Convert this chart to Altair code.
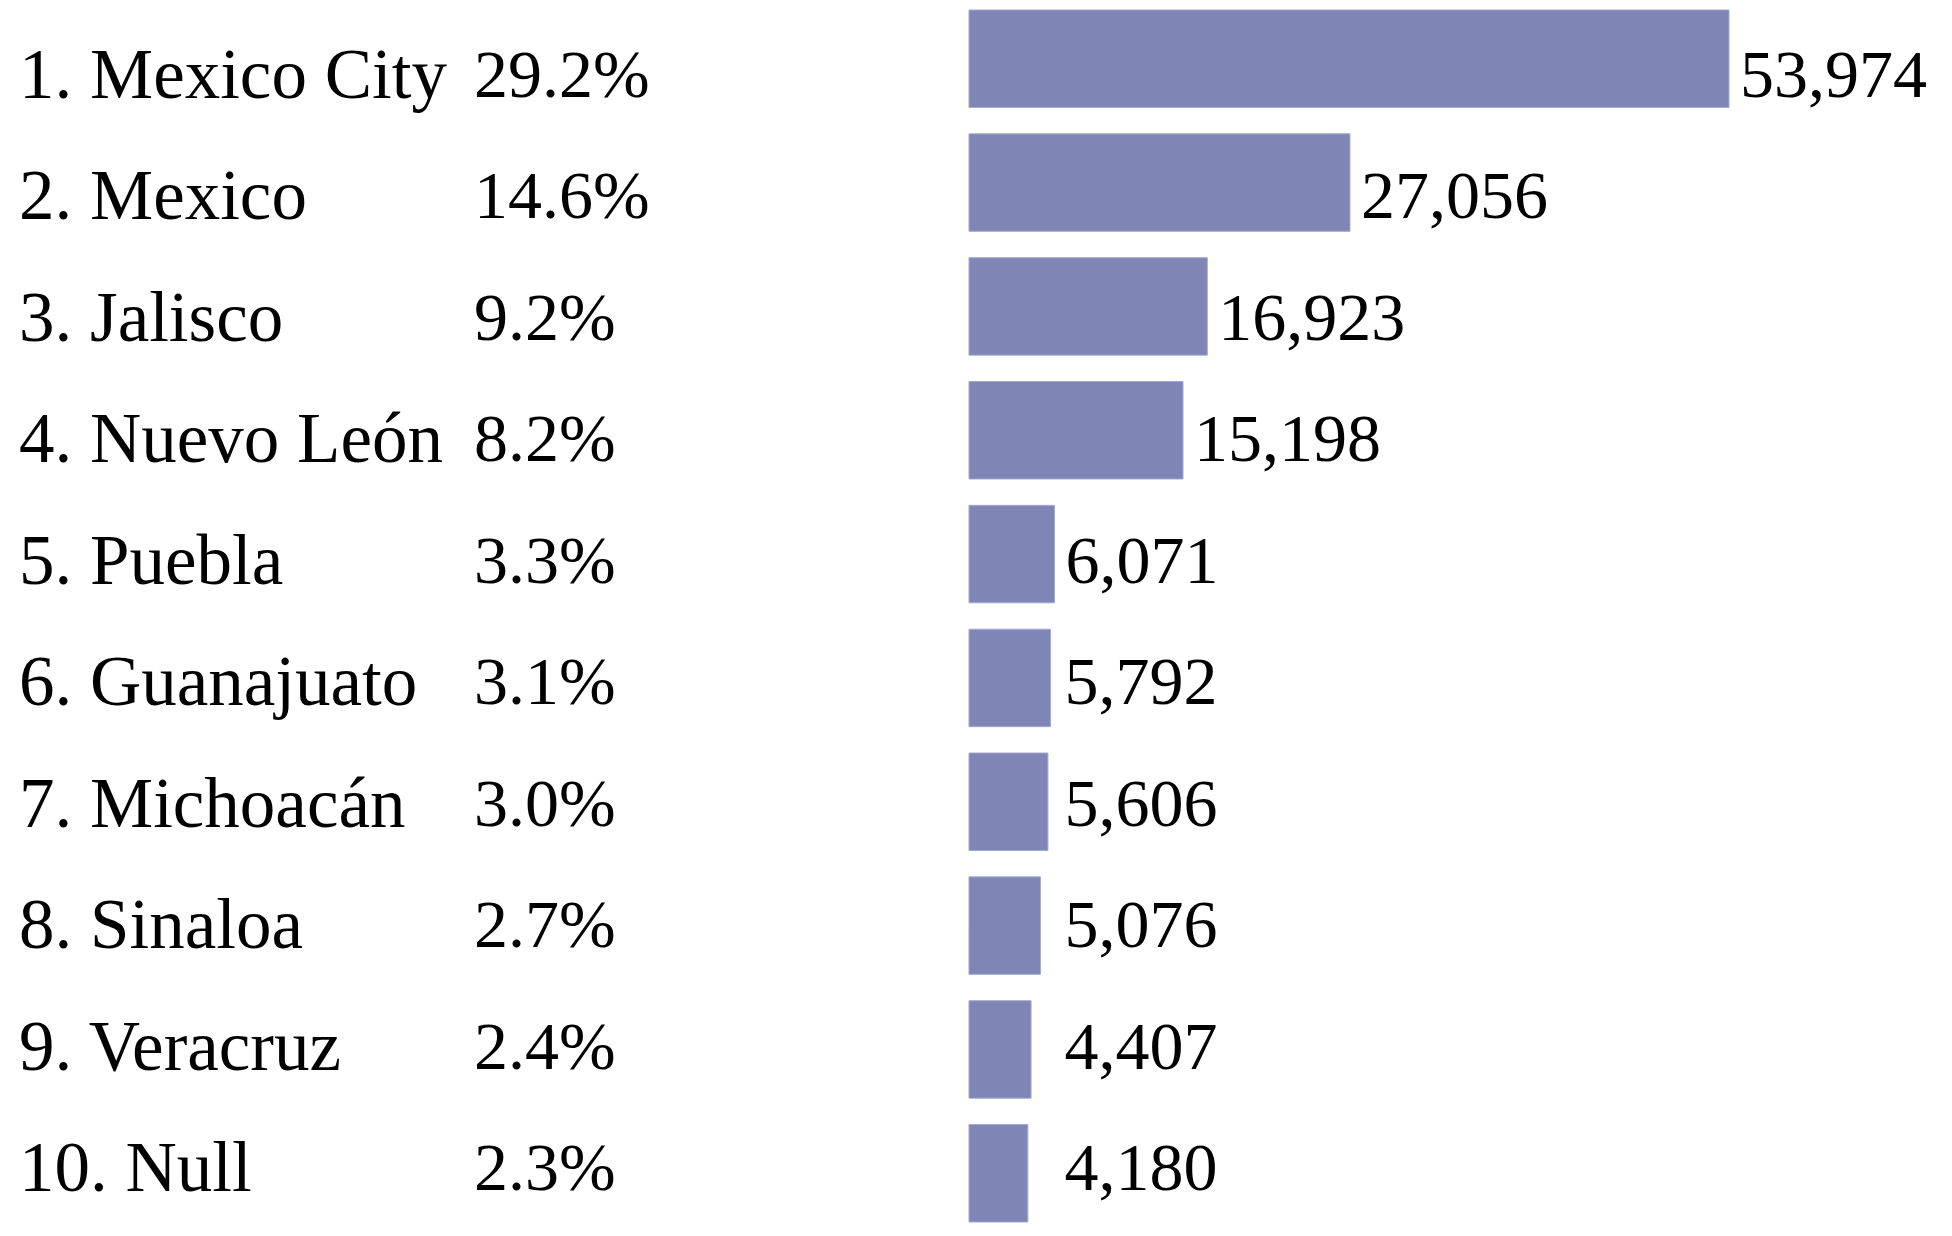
import altair as alt
import pandas as pd

states = ["1. Mexico City", "2. Mexico", "3. Jalisco", "4. Nuevo León", "5. Puebla",
          "6. Guanajuato", "7. Michoacán", "8. Sinaloa", "9. Veracruz", "10. Null"]
shares = ["29.2%", "14.6%", "9.2%", "8.2%", "3.3%", "3.1%", "3.0%", "2.7%", "2.4%", "2.3%"]
counts = [53974, 27056, 16923, 15198, 6071, 5792, 5606, 5076, 4407, 4180]

df = pd.DataFrame({"state": states, "share": shares, "count": counts})

FONT = "Liberation Serif"
FS = 68

ybar = alt.Y("state:N", sort=states, axis=None,
             scale=alt.Scale(type="band", range=[2, 1214], paddingInner=0.213, paddingOuter=0))
ytxt = alt.Y("state:N", sort=states, axis=None,
             scale=alt.Scale(type="point", range=[69, 1162], padding=0))
xscale = alt.Scale(domain=[0, 53974], range=[961, 1721], nice=False, zero=True)

base = alt.Chart(df)

bars = base.mark_bar(color="#7f86b6", stroke="#a3a8cf", strokeWidth=1).encode(
    x=alt.X("count:Q", scale=xscale, axis=None),
    y=ybar,
)

labels = base.transform_calculate(
    labx="max(datum.count, 6000)"
).mark_text(align="left", baseline="middle", dx=11, font=FONT, fontSize=FS, color="black").encode(
    x=alt.X("labx:Q", scale=xscale, axis=None),
    y=ytxt,
    text=alt.Text("count:Q", format=","),
)

names = base.mark_text(align="left", baseline="middle", font=FONT, fontSize=71, color="black").encode(
    x=alt.value(11),
    y=ytxt,
    text="state:N",
)

pcts = base.mark_text(align="left", baseline="middle", font=FONT, fontSize=FS, color="black").encode(
    x=alt.value(466),
    y=ytxt,
    text="share:N",
)

txt = alt.layer(labels, names, pcts)

chart = alt.layer(bars, txt).resolve_scale(y="independent").properties(
    width=1936, height=1220, padding=0
).configure_view(stroke=None)

chart.save("out.html", embed_options={"renderer": "svg", "actions": False})
